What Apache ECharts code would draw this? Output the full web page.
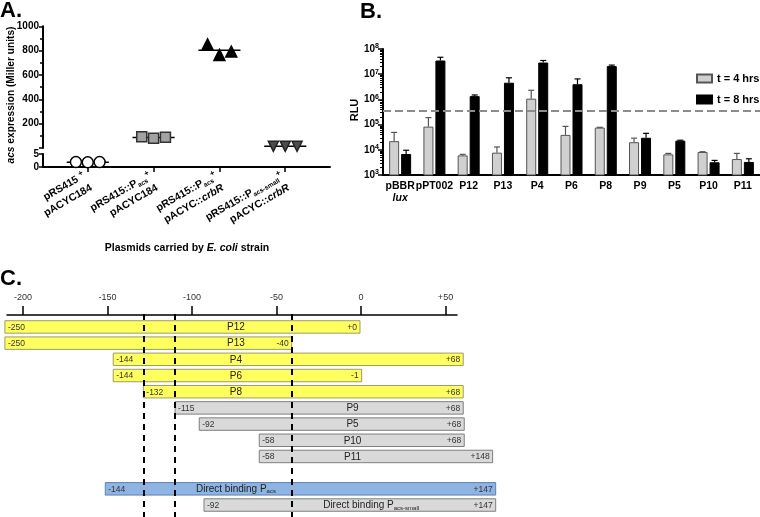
<!DOCTYPE html>
<html><head><meta charset="utf-8">
<script src="https://cdn.jsdelivr.net/npm/echarts@6/dist/echarts.min.js"></script>
<style>html,body{margin:0;padding:0;background:#fff}#c{width:760px;height:517px}</style>
</head><body><div id="c"></div>
<script>
// ---------- Panel A data ----------
const aGroupLabels = [
  'pRS415 {sup|+}\npACYC184',
  'pRS415::P{sub|acs}{sup|+}\npACYC184',
  'pRS415::P{sub|acs}{sup|+}\npACYC::{it|crbR}',
  'pRS415::P{sub|acs-small}{sup|+}\npACYC::{it|crbR}'
];
const aReplicates = [
  [1.9, 1.8, 1.9],
  [93, 80, 88],
  [852, 765, 792],
  [14, 14, 14]
];
const aTopTicks = [0, 1000, 200];   // min, max, interval of upper segment
const aBottomTicks = [0, 5, 5];     // min, max, interval of lower segment

// ---------- Panel B data ----------
const bCategories = ['pBBR\n{it|lux}', 'pPT002', 'P12', 'P13', 'P4', 'P6', 'P8', 'P9', 'P5', 'P10', 'P11'];
const b4h    = [2.2e4, 8.3e4, 6.0e3, 7.7e3, 1.07e6, 3.9e4, 7.6e4, 2.0e4, 6.6e3, 8.2e3, 4.3e3];
const b4hTop = [4.9e4, 1.9e5, 6.6e3, 1.3e4, 2.3e6, 8.5e4, 7.8e4, 2.9e4, 7.2e3, 8.4e3, 7.2e3];
const b8h    = [6.8e3, 3.5e7, 1.35e6, 4.6e6, 2.9e7, 4.0e6, 2.1e7, 3.0e4, 2.3e4, 3.2e3, 3.3e3];
const b8hTop = [9.6e3, 4.7e7, 1.5e6, 7.2e6, 3.5e7, 6.5e6, 2.3e7, 4.5e4, 2.4e4, 3.8e3, 4.4e3];
const bThreshold = 3.5e5;
const bSeriesNames = ['t = 4 hrs', 't = 8 hrs'];

// ---------- Panel C data ----------
const cTicks = [-200, -150, -100, -50, 0, 50];
const cNames = ['P12', 'P13', 'P4', 'P6', 'P8', 'P9', 'P5', 'P10', 'P11', null,
  'Direct binding P{sub|acs}', 'Direct binding P{sub|acs-small}'];
const cStartText = ['-250', '-250', '-144', '-144', '-132', '-115', '-92', '-58', '-58', null, '-144', '-92'];
const cEndText = ['+0', '-40', '+68', '-1', '+68', '+68', '+68', '+68', '+148', null, '+147', '+147'];
const cDrawStart = [-210.7, -210.7, -146.6, -146.6, -128.8, -110.0, -95.7, -60.2, -60.2, null, -151.3, -92.9];
const cDrawEnd = [-0.6, -41.0, 60.5, 0.4, 60.5, 60.5, 61.1, 61.1, 77.9, null, 79.7, 79.7];
const cKind = ['y', 'y', 'y', 'y', 'y', 'g', 'g', 'g', 'g', null, 'b', 'g'];

// ---------- layout / style ----------
const FONT = '"Liberation Sans", Arial, Helvetica, sans-serif';
const cNameAt = [-74, -74, -74, -74, -74, -5, -5, -5, -5, null, -74, 6];
const cFill = { y: '#FFFF5E', g: '#D9D9D9', b: '#8DB4E2' };
const cStroke = { y: '#9C9C6A', g: '#7F7F7F', b: '#5F82AE' };
const aStyles = [
  { symbol: 'circle', size: 11, rotate: 0, color: '#fff', border: '#000' },
  { symbol: 'rect', size: 10, rotate: 0, color: '#A3A3A3', border: '#333' },
  { symbol: 'triangle', size: 11, rotate: 0, color: '#000', border: '#000' },
  { symbol: 'triangle', size: 10, rotate: 180, color: '#4D4D4D', border: '#222' }
];
const aJitter = [-0.18, 0, 0.18];

const chart = echarts.init(document.getElementById('c'), null, { renderer: 'canvas' });

const richA = {
  sup: { fontSize: 8, fontWeight: 'bold', fontFamily: FONT, verticalAlign: 'top', lineHeight: 8, color: '#000' },
  sub: { fontSize: 6.5, fontFamily: FONT, verticalAlign: 'bottom', lineHeight: 7, color: '#000' },
  it: { fontSize: 10.5, fontStyle: 'italic', fontWeight: 'bold', fontFamily: FONT, color: '#000' }
};

const series = [];
// Panel A markers
aReplicates.forEach((reps, g) => {
  const low = Math.max(...reps) < aBottomTicks[1];
  const st = aStyles[g];
  series.push({
    type: 'scatter', xAxisIndex: low ? 1 : 0, yAxisIndex: low ? 1 : 0,
    symbol: st.symbol, symbolSize: st.size, symbolRotate: st.rotate, clip: false, z: 5,
    itemStyle: { color: st.color, borderColor: st.border, borderWidth: 1.5, opacity: 1 },
    data: reps.map((v, k) => [g + aJitter[k], v]),
    silent: true
  });
  const mean = reps.reduce((a, b) => a + b, 0) / reps.length;
  series.push({
    type: 'custom', xAxisIndex: low ? 1 : 0, yAxisIndex: low ? 1 : 0, z: 3, clip: false,
    data: [[g, mean]],
    renderItem: (params, api) => {
      const p1 = api.coord([api.value(0) - 0.32, api.value(1)]);
      const p2 = api.coord([api.value(0) + 0.32, api.value(1)]);
      return { type: 'line', shape: { x1: p1[0], y1: p1[1], x2: p2[0], y2: p2[1] }, style: { stroke: '#000', lineWidth: 1.5 } };
    }
  });
});

// Panel B bars
series.push({
  name: bSeriesNames[0], type: 'bar', xAxisIndex: 2, yAxisIndex: 2, barWidth: 10, barGap: '20%',
  itemStyle: { color: '#D0D0D0', borderColor: '#555', borderWidth: 1 }, data: b4h, z: 2,
  markLine: {
    silent: true, symbol: 'none', label: { show: false },
    lineStyle: { color: '#8C8C8C', width: 2, type: [8, 4] },
    data: [{ yAxis: bThreshold }]
  }
});
series.push({
  name: bSeriesNames[1], type: 'bar', xAxisIndex: 2, yAxisIndex: 2, barWidth: 10, barGap: '20%',
  itemStyle: { color: '#000', borderColor: '#000', borderWidth: 1 }, data: b8h, z: 3
});
function errSeries(vals, tops, off, color) {
  return {
    type: 'custom', xAxisIndex: 2, yAxisIndex: 2, z: 4,
    data: vals.map((v, i) => [i, v, tops[i]]),
    renderItem: (params, api) => {
      const b = api.coord([api.value(0), api.value(1)]);
      const t = api.coord([api.value(0), api.value(2)]);
      const x = b[0] + off;
      return { type: 'group', children: [
        { type: 'line', shape: { x1: x, y1: b[1], x2: x, y2: t[1] }, style: { stroke: color, lineWidth: 1.2 } },
        { type: 'line', shape: { x1: x - 3, y1: t[1], x2: x + 3, y2: t[1] }, style: { stroke: color, lineWidth: 1.2 } }
      ] };
    }
  };
}
series.push(errSeries(b4h, b4hTop, -6, '#555'));
series.push(errSeries(b8h, b8hTop, 6, '#000'));

// Panel C segments
const cRows = cNames.map((n, i) => n === null ? -1 : i).filter(i => i >= 0);
series.push({
  type: 'custom', xAxisIndex: 4, yAxisIndex: 5, z: 2, clip: false,
  data: cRows.map(i => [cDrawStart[i], cDrawEnd[i], i]),
  renderItem: (params, api) => {
    const i = cRows[params.dataIndex];
    const s = api.coord([api.value(0), api.value(2)]);
    const e = api.coord([api.value(1), api.value(2)]);
    const h = api.size([0, 1])[1] * 0.77;
    const nm = api.coord([cNameAt[i], api.value(2)]);
    const k = cKind[i];
    return { type: 'group', children: [
      { type: 'rect', shape: { x: s[0], y: s[1] - h / 2, width: e[0] - s[0], height: h },
        style: { fill: cFill[k], stroke: cStroke[k], lineWidth: 1 } },
      { type: 'text', x: s[0] + 3, y: s[1] + 0.5,
        style: { text: cStartText[i], fontSize: 8.5, fontFamily: FONT, fill: '#333', align: 'left', verticalAlign: 'middle' } },
      { type: 'text', x: e[0] - 3, y: e[1] + 0.5,
        style: { text: cEndText[i], fontSize: 8.5, fontFamily: FONT, fill: '#333', align: 'right', verticalAlign: 'middle' } },
      { type: 'text', x: nm[0], y: nm[1] + 0.5,
        style: { text: cNames[i], fontSize: 10, fontFamily: FONT, fill: '#222', align: 'center', verticalAlign: 'middle', lineHeight: 11,
          rich: { sub: { fontSize: 6, fontFamily: FONT, fill: '#222', verticalAlign: 'bottom', lineHeight: 6 } } } }
    ] };
  },
  markLine: {
    silent: true, symbol: 'none', label: { show: false }, z: 10,
    lineStyle: { color: '#000', width: 2, type: [6, 5] },
    data: [{ xAxis: cDrawStart[4] }, { xAxis: cDrawStart[5] }, { xAxis: cDrawEnd[1] }]
  }
});

const minorLog = [];
for (let e = 3; e < 8; e++) for (let k = 2; k <= 9; k++) minorLog.push(k * Math.pow(10, e));

const axisLineBlack = { show: true, onZero: false, lineStyle: { color: '#000', width: 2 } };

const option = {
  animation: false,
  backgroundColor: '#fff',
  textStyle: { fontFamily: FONT },
  grid: [
    { left: 43, top: 26.3, width: 287, height: 121.7 },
    { left: 43, top: 154, width: 287, height: 13 },
    { left: 383, top: 49, width: 377, height: 126 },
    { left: 7, top: 315, width: 450, height: 1 },
    { left: 0, top: 314, width: 760, height: 203 }
  ],
  xAxis: [
    { gridIndex: 0, type: 'value', min: -0.68, max: 3.68, show: false, axisLine: { onZero: false } },
    { gridIndex: 1, type: 'value', min: -0.68, max: 3.68,
      axisLine: axisLineBlack, splitLine: { show: false },
      axisTick: { show: true, customValues: [0, 1, 2, 3], length: 5, lineStyle: { color: '#000', width: 1.5 } },
      axisLabel: { customValues: [0, 1, 2, 3], rotate: 30, margin: 14, lineHeight: 14,
        fontSize: 10.5, fontWeight: 'bold', color: '#000', fontFamily: FONT,
        formatter: v => aGroupLabels[Math.round(v)] || '', rich: richA } },
    { gridIndex: 2, type: 'category', data: bCategories,
      axisLine: axisLineBlack,
      axisTick: { alignWithLabel: true, length: 4, lineStyle: { color: '#000', width: 1.5 } },
      axisLabel: { interval: 0, margin: 5, fontSize: 10.5, fontWeight: 'bold', color: '#000', fontFamily: FONT, lineHeight: 12,
        rich: { it: { fontStyle: 'italic', fontWeight: 'bold', fontSize: 10.5, fontFamily: FONT, color: '#000' } } } },
    { gridIndex: 3, type: 'value', position: 'top', min: -209.47, max: 56.8,
      axisLine: { show: true, onZero: false, lineStyle: { color: '#000', width: 1.5 } }, splitLine: { show: false },
      axisTick: { show: true, customValues: cTicks, length: 9, lineStyle: { color: '#000', width: 1.5 } },
      axisLabel: { customValues: cTicks, margin: 13, fontSize: 9, color: '#333', fontFamily: FONT,
        formatter: v => (v > 0 ? '+' + v : String(v)) } },
    { gridIndex: 4, type: 'value', min: -213.6, max: 236.1, show: false, axisLine: { onZero: false } }
  ],
  yAxis: [
    { gridIndex: 0, type: 'value', min: aTopTicks[0], max: aTopTicks[1], interval: aTopTicks[2],
      axisLine: axisLineBlack, splitLine: { show: false },
      axisTick: { show: true, length: 4, lineStyle: { color: '#000', width: 1.5 } },
      minorTick: { show: true, splitNumber: 2, length: 3, lineStyle: { color: '#000', width: 1.5 } },
      axisLabel: { margin: 4, fontSize: 10, fontWeight: 'bold', color: '#000', fontFamily: FONT,
        formatter: v => (v === 0 ? '' : String(v)) } },
    { gridIndex: 1, type: 'value', min: aBottomTicks[0], max: aBottomTicks[1], interval: aBottomTicks[2],
      axisLine: axisLineBlack, splitLine: { show: false },
      axisTick: { show: true, length: 4, lineStyle: { color: '#000', width: 1.5 } },
      axisLabel: { margin: 4, fontSize: 10, fontWeight: 'bold', color: '#000', fontFamily: FONT } },
    { gridIndex: 2, type: 'log', logBase: 10, min: 1e3, max: 1e8,
      axisLine: axisLineBlack, splitLine: { show: false },
      axisTick: { show: true, length: 5, lineStyle: { color: '#000', width: 1.5 } },
      axisLabel: { margin: 4, fontSize: 10, fontWeight: 'bold', color: '#000', fontFamily: FONT, lineHeight: 12,
        formatter: v => '10{sup|' + Math.round(Math.log10(v)) + '}',
        rich: { sup: { fontSize: 7, fontWeight: 'bold', fontFamily: FONT, color: '#000', verticalAlign: 'top', lineHeight: 7 } } } },
    { gridIndex: 2, type: 'log', logBase: 10, min: 1e3, max: 1e8, position: 'left',
      axisLine: { show: false, onZero: false }, splitLine: { show: false }, axisLabel: { show: false },
      axisTick: { show: true, customValues: minorLog, length: 3, lineStyle: { color: '#000', width: 1 } } },
    { gridIndex: 3, type: 'value', show: false, axisLine: { onZero: false } },
    { gridIndex: 4, type: 'value', inverse: true, min: -0.8, max: 11.74, show: false, axisLine: { onZero: false } }
  ],
  legend: {
    data: bSeriesNames, orient: 'vertical', left: 691, top: 68, itemWidth: 15, itemHeight: 8, itemGap: 10,
    icon: 'rect', selectedMode: false,
    textStyle: { fontSize: 11, fontWeight: 'bold', color: '#000', fontFamily: FONT }
  },
  graphic: [
    { type: 'text', x: 0, y: 0, style: { text: 'A.', fontSize: 22, fontWeight: 'bold', fontFamily: FONT, fill: '#000' } },
    { type: 'text', x: 360, y: 1, style: { text: 'B.', fontSize: 22, fontWeight: 'bold', fontFamily: FONT, fill: '#000' } },
    { type: 'text', x: 0, y: 268, style: { text: 'C.', fontSize: 22, fontWeight: 'bold', fontFamily: FONT, fill: '#000' } },
    { type: 'text', x: 11, y: 95, rotation: Math.PI / 2,
      style: { text: '{it|acs} expression (Miller units)', fontSize: 10.2, fontWeight: 'bold', fontFamily: FONT, fill: '#000',
        align: 'center', verticalAlign: 'middle',
        rich: { it: { fontSize: 10.2, fontStyle: 'italic', fontWeight: 'bold', fontFamily: FONT, fill: '#000' } } } },
    { type: 'text', x: 187, y: 248,
      style: { text: 'Plasmids carried by {it|E. coli} strain', fontSize: 10.5, fontWeight: 'bold', fontFamily: FONT, fill: '#000',
        align: 'center', verticalAlign: 'middle',
        rich: { it: { fontSize: 10.5, fontStyle: 'italic', fontWeight: 'bold', fontFamily: FONT, fill: '#000' } } } },
    { type: 'text', x: 355, y: 110, rotation: Math.PI / 2,
      style: { text: 'RLU', fontSize: 11, fontWeight: 'bold', fontFamily: FONT, fill: '#000', align: 'center', verticalAlign: 'middle' } }
  ],
  series: series
};
chart.setOption(option);
</script>
</body></html>
